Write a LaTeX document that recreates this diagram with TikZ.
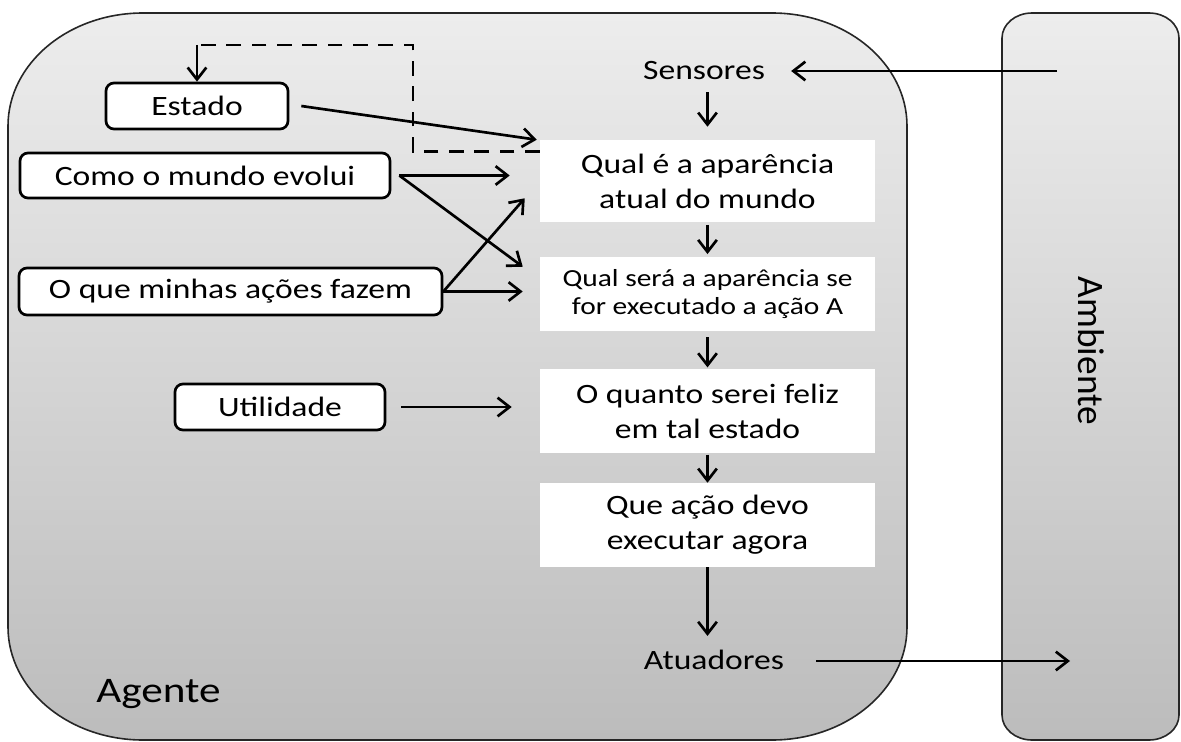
\documentclass[tikz,border=0pt]{standalone}
\usepackage{fontspec}
\setmainfont{Carlito}[FakeStretch=1.2]
\newfontfamily\plainfont{Carlito}
\usetikzlibrary{arrows.meta,calc}
\newcommand{\mainfs}{\fontsize{21}{26.25}\selectfont}
\newcommand{\smallfs}{\fontsize{18.4}{21}\selectfont}
\newcommand{\agfs}{\fontsize{27}{30}\selectfont}
\definecolor{shtop}{RGB}{237,237,237}
\definecolor{shbot}{RGB}{188,188,188}
\begin{document}
\begin{tikzpicture}[x=0.75pt,y=-0.75pt,
  arr/.style={line width=2pt,-{Straight Barb[length=9pt,width=14pt,line width=2pt]}},
  dashline/.style={line width=2pt,dash pattern=on 11pt off 8pt},
  obox/.style={draw,line width=2pt,rounded corners=6pt,fill=white,inner sep=0pt,font=\mainfs},
  wbox/.style={fill=white,inner sep=0pt,align=center,minimum width=251.25pt},
  lbl/.style={inner sep=0pt,font=\mainfs},
  panel/.style={draw=black!85,line width=1.2pt,top color=shtop,bottom color=shbot}
]
\useasboundingbox (0,0) rectangle (1181,742);

% Agent panel
\draw[panel] (143,13) -- (772,13)
  arc[start angle=90,end angle=0,x radius=101.25pt,y radius=84.75pt] -- (907,627)
  arc[start angle=0,end angle=-90,x radius=101.25pt,y radius=84.75pt] -- (143,740)
  arc[start angle=270,end angle=180,x radius=101.25pt,y radius=84.75pt] -- (8,126)
  arc[start angle=180,end angle=90,x radius=101.25pt,y radius=84.75pt] -- cycle;

% Ambient panel
\draw[panel] (1032,13) -- (1149,13)
  arc[start angle=90,end angle=0,x radius=22.5pt,y radius=18.75pt] -- (1179,715)
  arc[start angle=0,end angle=-90,x radius=22.5pt,y radius=18.75pt] -- (1032,740)
  arc[start angle=270,end angle=180,x radius=22.5pt,y radius=18.75pt] -- (1002,38)
  arc[start angle=180,end angle=90,x radius=22.5pt,y radius=18.75pt] -- cycle;

% white process boxes
\node[wbox,minimum height=61.5pt,font=\mainfs] (b1) at (707.5,181) {Qual é a aparência\\atual do mundo};
\node[wbox,minimum height=55.5pt,font=\smallfs] (b2) at (707.5,294) {Qual será a aparência se\\for executado a ação A};
\node[wbox,minimum height=63pt,font=\mainfs] (b3) at (707.5,411) {O quanto serei feliz\\em tal estado};
\node[wbox,minimum height=63pt,font=\mainfs] (b4) at (707.5,525) {Que ação devo\\executar agora};

% knowledge boxes
\node[obox,minimum width=136.5pt,minimum height=34.5pt] (estado) at (197,106) {Estado};
\node[obox,minimum width=277.5pt,minimum height=33.75pt] (como) at (205,175.5) {Como o mundo evolui};
\node[obox,minimum width=317.25pt,minimum height=35.25pt] (oque) at (230.5,291.5) {O que minhas ações fazem};
\node[obox,minimum width=157.5pt,minimum height=34.5pt] (util) at (280,407) {Utilidade};

% labels
\node[lbl] (sens) at (704,71) {Sensores};
\node[lbl] (atu) at (714,660) {Atuadores};
\node[lbl,font=\agfs,anchor=base west] (agente) at (96,702) {Agente};
\node[inner sep=0pt,font=\plainfont\fontsize{28}{30}\selectfont,rotate=-90] (amb) at (1091,351) {Ambiente};

% free ends
\coordinate (sin) at (1057,71);
\coordinate (aout) at (1070,661);
\coordinate (dtop) at (413,45);

% sensors / actuators
\draw[arr] (sin) -- ([xshift=19.5pt]sens.east);
\draw[arr,shorten <=9pt,shorten >=9.75pt] (b1.north |- sens.south) -- (b1.north);
\draw[arr,shorten <=24pt] (atu.east |- aout) -- (aout);

% main column
\draw[arr,shorten <=2pt,shorten >=2pt] (b1.south) -- (b2.north);
\draw[arr,shorten <=4.5pt,shorten >=1pt] (b2.south) -- (b3.north);
\draw[arr,shorten <=1pt,shorten >=0pt] (b3.south) -- (b4.north);
\draw[arr,shorten >=10.5pt] (b4.south) -- (b4.south |- atu.north);

% state feedback (dashed)
\draw[dashline] ([yshift=-9pt]b1.north west) -| (dtop) -- (dtop -| estado.north);
\draw[arr] (dtop -| estado.north) -- (estado.north);

% inputs
\draw[arr] ([xshift=9pt]estado.east) -- ([xshift=-2.25pt]b1.north west);
\draw[arr] ([xshift=6pt]como.east) -- ($(b1.west |- como.east)+(-30,0)$);
\draw[arr] ([xshift=6pt]como.east) -- ($(b2.north west)+(-17,10)$);
\draw[arr] (oque.east) -- ($(b1.south west)+(-15,-24)$);
\draw[arr] (oque.east) -- ($(b2.west |- oque.east)+(-17,0)$);
\draw[arr] ([xshift=11.25pt]util.east) -- ($(b3.west |- util.east)+(-28,0)$);
\end{tikzpicture}
\end{document}
